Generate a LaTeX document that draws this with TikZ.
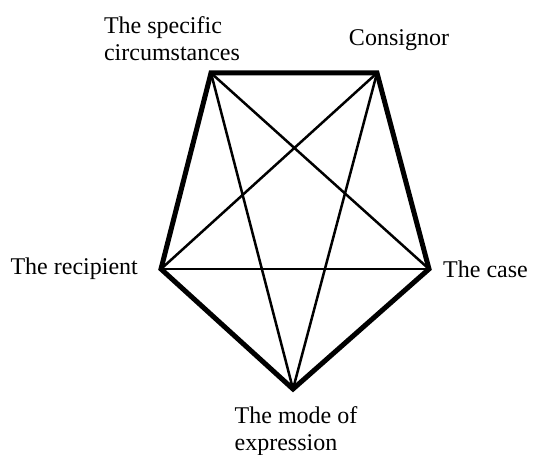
\documentclass[tikz,border=0pt]{standalone}
\usepackage{fontspec}
\setmainfont{Liberation Serif}

\begin{document}
\begin{tikzpicture}[x=1pt,y=1pt]
	\newcommand\rim{5pt};
	\newcommand\chord{2.5pt};
	\tikzset{lbl/.style={font=\fontsize{24}{27}\selectfont,inner sep=0pt}}

	\useasboundingbox (0,0) rectangle (536,455);

	\coordinate (circ) at (211,382);
	\coordinate (cons) at (377,382);
	\coordinate (case) at (429,186);
	\coordinate (mode) at (293,66);
	\coordinate (reci) at (161,186);

	\node[lbl,align=left] (circlbl) at (172,416) {The specific\\circumstances};
	\node[lbl] (conslbl) at (399,415) {Consignor};
	\node[lbl,anchor=east] (recilbl) at (138,186) {The recipient};
	\node[lbl,anchor=west] (caselbl) at (443,186) {The case};
	\node[lbl,align=left] (modelbl) at (296,24) {The mode of\\expression};

	\foreach \a/\b in {circ/case,circ/mode,cons/reci,cons/mode,reci/case} {
		\draw[line width=\chord] (\a) -- (\b);
	}
	\draw[line width=\rim,line join=miter] (circ) -- (cons) -- (case) -- (mode) -- (reci) -- cycle;
\end{tikzpicture}
\end{document}
